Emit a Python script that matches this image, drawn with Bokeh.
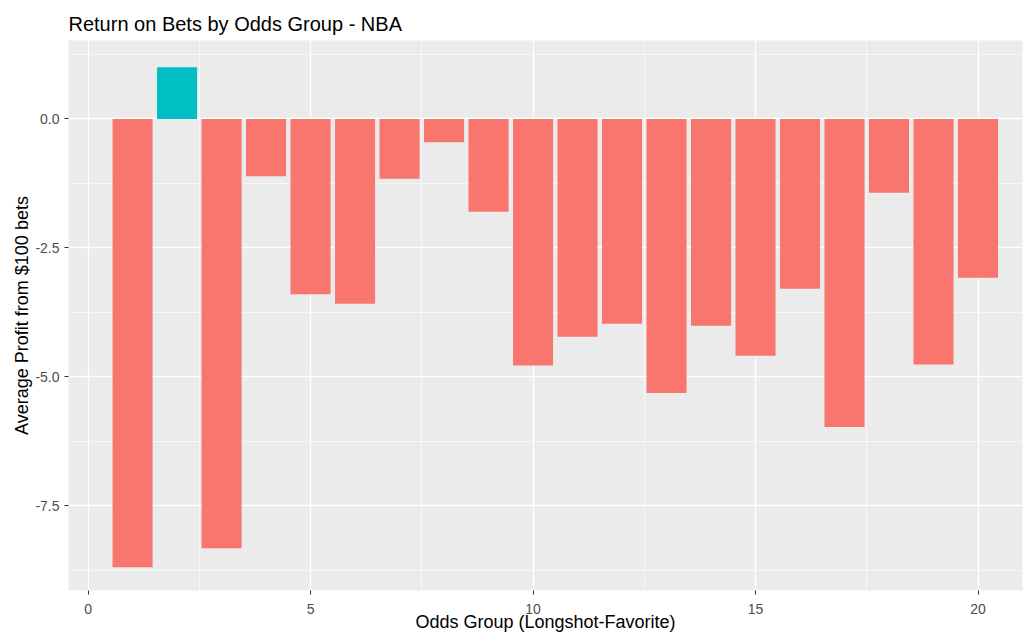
from bokeh.plotting import figure
from bokeh.models import Range1d, SingleIntervalTicker, ColumnDataSource, CustomJSTickFormatter
from bokeh.embed import file_html
from bokeh.resources import INLINE

odds_group = list(range(1, 21))
avg_profit = [-8.69, 1.00, -8.32, -1.11, -3.40, -3.58, -1.16, -0.45, -1.80, -4.78,
              -4.22, -3.97, -5.31, -4.01, -4.59, -3.29, -5.97, -1.43, -4.76, -3.08]

POS, NEG = "#00BFC4", "#F8766D"
colors = [POS if v > 0 else NEG for v in avg_profit]
src = ColumnDataSource(dict(x=odds_group, top=avg_profit, color=colors))

FONT = "Liberation Sans"
p = figure(width=1024, height=637, output_backend="svg", toolbar_location=None,
           x_range=Range1d(-0.44, 21.0), y_range=Range1d(-9.14, 1.52),
           min_border_left=68, min_border_right=2, min_border_top=40, min_border_bottom=47,
           title="Return on Bets by Odds Group - NBA")
p.background_fill_color = "#EBEBEB"
p.border_fill_color = "white"
p.outline_line_color = None

p.title.text_font = FONT
p.title.text_font_size = "20px"
p.title.text_font_style = "normal"
p.title.text_color = "black"
p.title.align = "left"
p.title.standoff = 12

p.vbar(x="x", top="top", bottom=0, width=0.9, fill_color="color", line_color=None, source=src)

p.xaxis.ticker = SingleIntervalTicker(interval=5, num_minor_ticks=2)
p.yaxis.ticker = SingleIntervalTicker(interval=2.5, num_minor_ticks=2)
p.yaxis.formatter = CustomJSTickFormatter(code="return tick.toFixed(1);")

for ax in (p.xaxis, p.yaxis):
    ax.axis_line_color = None
    ax.major_tick_in = 0
    ax.major_tick_out = 4
    ax.major_tick_line_color = "#333333"
    ax.major_tick_line_width = 1.1
    ax.minor_tick_line_color = None
    ax.major_label_text_font = FONT
    ax.major_label_text_font_size = "14px"
    ax.major_label_text_color = "#4D4D4D"
    ax.axis_label_text_font = FONT
    ax.axis_label_text_font_size = "18px"
    ax.axis_label_text_font_style = "normal"
    ax.axis_label_text_color = "black"

p.xaxis.major_label_standoff = 9
p.xaxis.axis_label = "Odds Group (Longshot-Favorite)"
p.xaxis.axis_label_standoff = -5
p.yaxis.major_label_standoff = 5
p.yaxis.axis_label = "Average Profit from $100 bets"
p.yaxis.axis_label_standoff = 0

for g in (p.xgrid, p.ygrid):
    g.grid_line_color = "white"
    g.grid_line_width = 1.3
    g.minor_grid_line_color = "white"
    g.minor_grid_line_width = 0.6

open("out.html", "w").write(file_html(p, INLINE))
